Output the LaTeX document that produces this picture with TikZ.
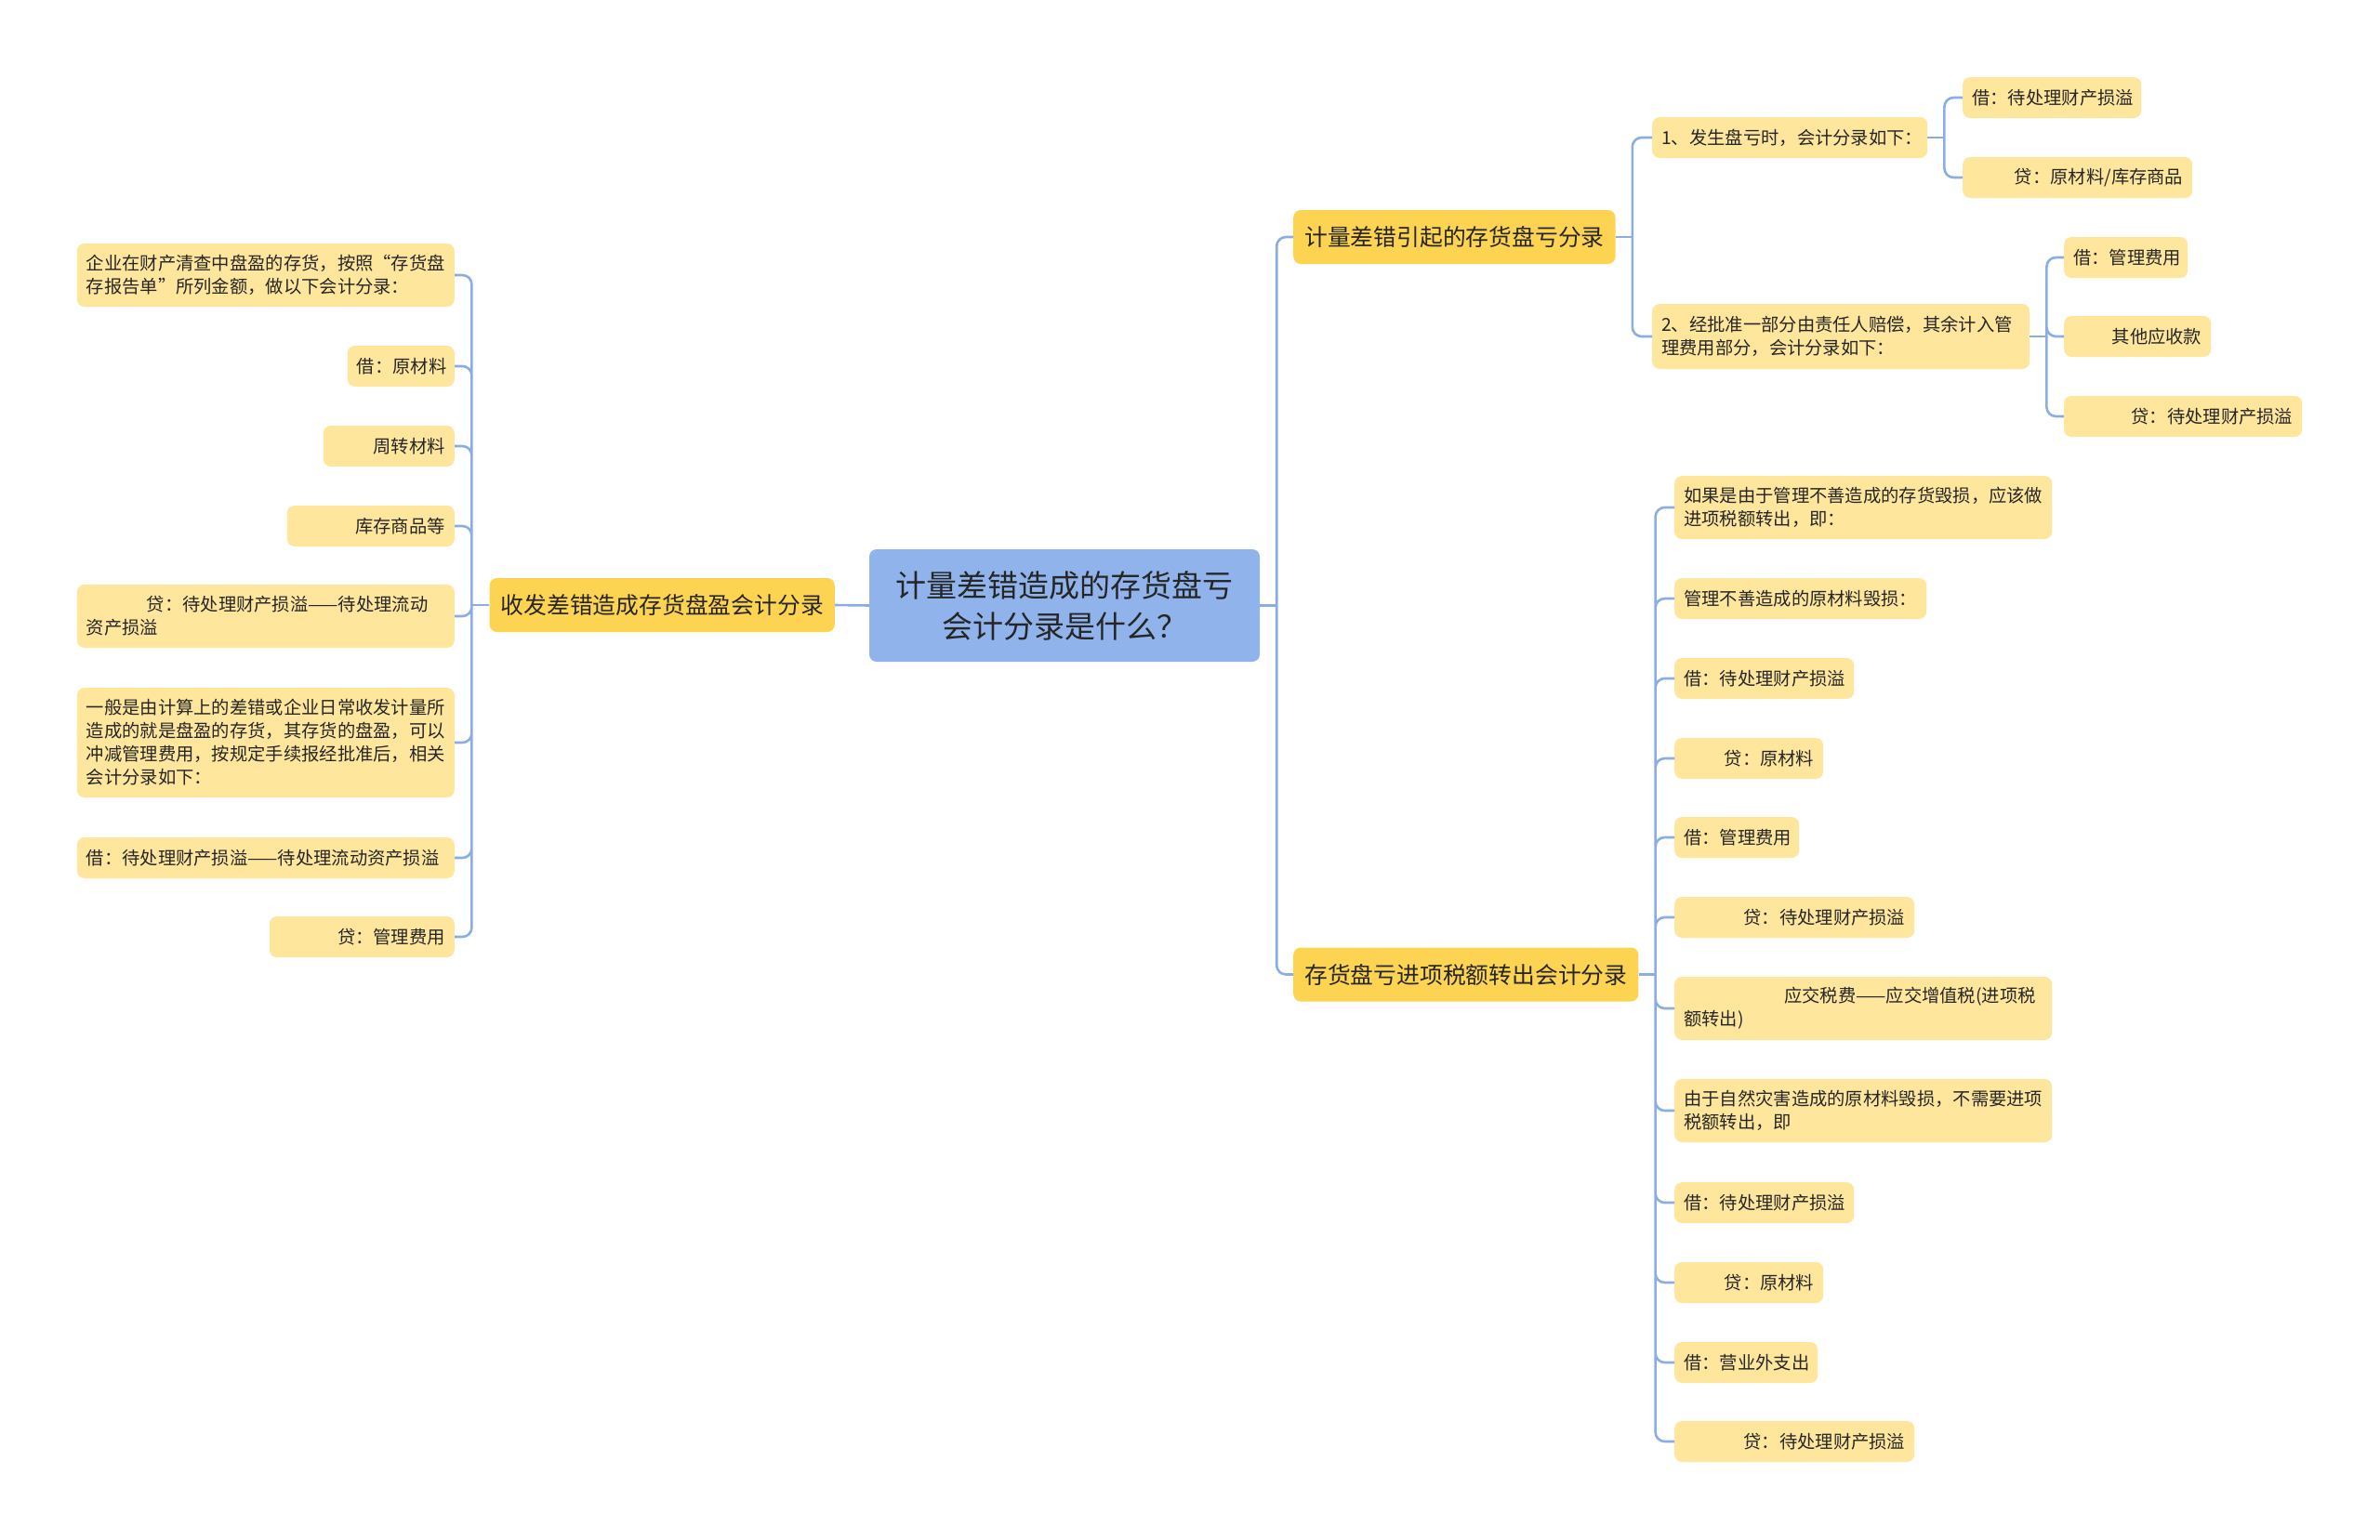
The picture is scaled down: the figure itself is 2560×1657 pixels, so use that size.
\documentclass[tikz,border=0pt]{standalone}
\usepackage{fontspec}
\setmainfont{Noto Sans CJK SC}
\usetikzlibrary{positioning,calc}
\definecolor{rootc}{HTML}{8FB3EA}
\definecolor{mainc}{HTML}{FDD451}
\definecolor{leafc}{HTML}{FEE69C}
\definecolor{linec}{HTML}{8AADE3}
\definecolor{txtc}{HTML}{262626}

\begin{document}
\begin{tikzpicture}[x=1pt,y=-1pt,
  root/.style={fill=rootc,rounded corners=8pt,minimum width=420pt,minimum height=121pt,align=center,text=txtc,font=\fontsize{33}{44}\selectfont},
  main/.style={fill=mainc,rounded corners=8pt,inner xsep=12pt,minimum height=58pt,text=txtc,font=\fontsize{24.8}{30}\selectfont},
  leaf/.style={fill=leafc,rounded corners=8pt,inner xsep=10pt,inner ysep=0pt,minimum height=44pt,align=left,text=txtc,font=\fontsize{19.3}{25}\selectfont},
  link/.style={draw=linec,line width=2.6pt,rounded corners=10pt}]
  \useasboundingbox (0,0) rectangle (2560,1657);
  \node[root] (root) at (1145,651.5) {计量差错造成的存货盘亏\\会计分录是什么？};
  \node[main,anchor=east] (pany) at (898,651) {收发差错造成存货盘盈会计分录};
  \node[main,anchor=west] (kuiA) at (1391,255) {计量差错引起的存货盘亏分录};
  \node[main,anchor=west] (kuiB) at (1391,1048.5) {存货盘亏进项税额转出会计分录};
  % left side
  \node[leaf,anchor=east,text width=386pt,minimum height=68pt] (y1) at (489,296) {企业在财产清查中盘盈的存货，按照“存货盘\\存报告单”所列金额，做以下会计分录：};
  \node[leaf,anchor=east,text width=95pt,align=right] (y2) at (489,394) {借：原材料};
  \node[leaf,anchor=east,text width=121pt,align=right] (y3) at (489,480) {周转材料};
  \node[leaf,anchor=east,text width=160pt,align=right] (y4) at (489,566) {库存商品等};
  \node[leaf,anchor=east,text width=386pt,minimum height=68pt] (y5) at (489,663) {\hspace*{65pt}贷：待处理财产损溢——待处理流动\\资产损溢};
  \node[leaf,anchor=east,text width=386pt,minimum height=118pt] (y6) at (489,799) {一般是由计算上的差错或企业日常收发计量所\\造成的就是盘盈的存货，其存货的盘盈，可以\\冲减管理费用，按规定手续报经批准后，相关\\会计分录如下：};
  \node[leaf,anchor=east,text width=386pt] (y7) at (489,923) {借：待处理财产损溢——待处理流动资产损溢};
  \node[leaf,anchor=east,text width=179pt,align=right] (y8) at (489,1008) {贷：管理费用};
  % upper right
  \node[leaf,anchor=west,text width=276pt] (a1) at (1777,148) {1、发生盘亏时，会计分录如下：};
  \node[leaf,anchor=west,text width=386pt,minimum height=70pt] (a2) at (1777,362) {2、经批准一部分由责任人赔偿，其余计入管\\理费用部分，会计分录如下：};
  \node[leaf,anchor=west,text width=172pt] (a11) at (2111,105) {借：待处理财产损溢};
  \node[leaf,anchor=west,text width=227pt,align=right] (a12) at (2111,191) {贷：原材料/库存商品};
  \node[leaf,anchor=west,text width=113pt] (a21) at (2220,277) {借：管理费用};
  \node[leaf,anchor=west,text width=138pt,align=right] (a22) at (2220,362) {其他应收款};
  \node[leaf,anchor=west,text width=236pt,align=right] (a23) at (2220,448) {贷：待处理财产损溢};
  % lower right
  \node[leaf,anchor=west,text width=386pt,minimum height=68pt] (b1) at (1801,546) {如果是由于管理不善造成的存货毁损，应该做\\进项税额转出，即：};
  \node[leaf,anchor=west,text width=251pt] (b2) at (1801,644) {管理不善造成的原材料毁损：};
  \node[leaf,anchor=west,text width=173pt] (b3) at (1801,730) {借：待处理财产损溢};
  \node[leaf,anchor=west,text width=140pt,align=right] (b4) at (1801,816) {贷：原材料};
  \node[leaf,anchor=west,text width=114pt] (b5) at (1801,901) {借：管理费用};
  \node[leaf,anchor=west,text width=238pt,align=right] (b6) at (1801,987) {贷：待处理财产损溢};
  \node[leaf,anchor=west,text width=386pt,minimum height=68pt] (b7) at (1801,1085) {\hspace*{108pt}应交税费——应交增值税(进项税\\额转出)};
  \node[leaf,anchor=west,text width=386pt,minimum height=68pt] (b8) at (1801,1195) {由于自然灾害造成的原材料毁损，不需要进项\\税额转出，即};
  \node[leaf,anchor=west,text width=173pt] (b9) at (1801,1294) {借：待处理财产损溢};
  \node[leaf,anchor=west,text width=140pt,align=right] (b10) at (1801,1380) {贷：原材料};
  \node[leaf,anchor=west,text width=134pt] (b11) at (1801,1466) {借：营业外支出};
  \node[leaf,anchor=west,text width=238pt,align=right] (b12) at (1801,1551) {贷：待处理财产损溢};
  % connectors
  \draw[link] (root.west) -- (pany.east);
  \draw[link] (root.east) -- ++(18,0) coordinate (rs);
  \draw[link] (rs) |- (kuiA.west) (rs) |- (kuiB.west);
  \draw[link] (pany.west) -- ++(-19,0) coordinate (ls);
  \draw[link] (ls) |- (y1.east) (ls) |- (y2.east) (ls) |- (y3.east) (ls) |- (y4.east)
    (ls) |- (y5.east) (ls) |- (y6.east) (ls) |- (y7.east) (ls) |- (y8.east);
  \draw[link] (kuiA.east) -- ++(18,0) coordinate (as);
  \draw[link] (as) |- (a1.west) (as) |- (a2.west);
  \draw[link] (a1.east) -- ++(18,0) coordinate (a1s);
  \draw[link] (a1s) |- (a11.west) (a1s) |- (a12.west);
  \draw[link] (a2.east) -- ++(18,0) coordinate (a2s);
  \draw[link] (a2s) |- (a21.west) (a2s) |- (a22.west) (a2s) |- (a23.west);
  \draw[link] (kuiB.east) -- ++(18,0) coordinate (bs);
  \draw[link] (bs) |- (b1.west) (bs) |- (b2.west) (bs) |- (b3.west) (bs) |- (b4.west)
    (bs) |- (b5.west) (bs) |- (b6.west) (bs) |- (b7.west) (bs) |- (b8.west)
    (bs) |- (b9.west) (bs) |- (b10.west) (bs) |- (b11.west) (bs) |- (b12.west);
\end{tikzpicture}
\end{document}
